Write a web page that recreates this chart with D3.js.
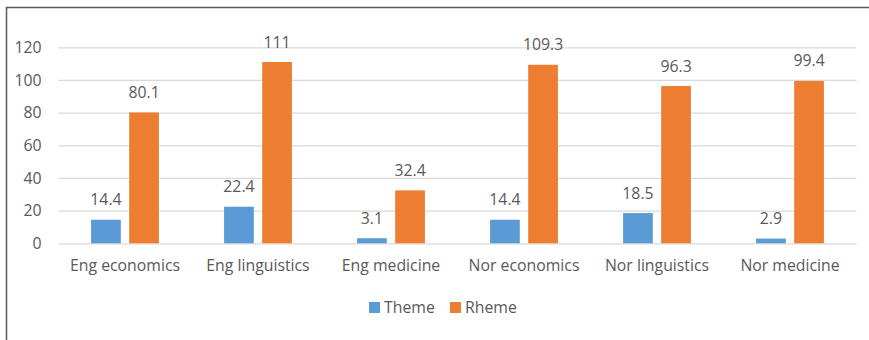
<!DOCTYPE html>
<html>
<head>
<meta charset="utf-8">
<script src="https://cdn.jsdelivr.net/npm/d3@7"></script>
<style>
  html, body { margin: 0; padding: 0; background: #fff; }
  svg { display: block; font-family: "Open Sans", sans-serif; }
</style>
</head>
<body>
<svg id="chart" width="869" height="340"></svg>
<script>
// Theme / Rheme counts per corpus
const categories = ["Eng economics", "Eng linguistics", "Eng medicine", "Nor economics", "Nor linguistics", "Nor medicine"];
const seriesNames = ["Theme", "Rheme"];
const themeValues = [14.4, 22.4, 3.1, 14.4, 18.5, 2.9];
const rhemeValues = [80.1, 111, 32.4, 109.3, 96.3, 99.4];
const yTicks = [0, 20, 40, 60, 80, 100, 120];
const seriesColors = ["#5B9BD5", "#ED7D31"];

const rows = categories.map((c, i) => ({ category: c, values: [themeValues[i], rhemeValues[i]] }));

const svg = d3.select("#chart");
const textColor = "#595959";
const fontSize = "15.8px";

// Chart frame
svg.append("rect")
  .attr("x", 6.5).attr("y", 7.5)
  .attr("width", 900).attr("height", 400)
  .attr("fill", "none").attr("stroke", "#5a5a5a").attr("stroke-width", 1.5);

const plot = { left: 58.5, right: 856.5, top: 47.3, bottom: 243.3 };

const y = d3.scaleLinear().domain([0, 120]).range([plot.bottom, plot.top]);
const x0 = d3.scaleBand().domain(categories).range([plot.left, plot.right])
  .paddingInner(0.49).paddingOuter(0.245);
const x1 = d3.scaleBand().domain(seriesNames).range([0, x0.bandwidth()])
  .paddingInner(0.22).paddingOuter(0);
const color = d3.scaleOrdinal().domain(seriesNames).range(seriesColors);

// Gridlines + y tick labels
const yAxis = svg.append("g")
  .attr("transform", `translate(${plot.left},0)`)
  .call(d3.axisLeft(y).tickValues(yTicks).tickSize(-(plot.right - plot.left)).tickPadding(17));
yAxis.select(".domain").remove();
yAxis.selectAll(".tick line").attr("stroke", "#d9d9d9").attr("stroke-width", 1.3);
yAxis.selectAll(".tick text")
  .attr("fill", textColor).style("font-size", fontSize).style("font-family", "'Open Sans', sans-serif");

// Category labels
const xAxis = svg.append("g")
  .attr("transform", `translate(0,${plot.bottom})`)
  .call(d3.axisBottom(x0).tickSize(0).tickPadding(16));
xAxis.select(".domain").remove();
xAxis.selectAll(".tick text")
  .attr("fill", textColor).style("font-size", fontSize).style("font-family", "'Open Sans', sans-serif");

// Bars
const groups = svg.append("g").selectAll("g")
  .data(rows).join("g")
  .attr("transform", d => `translate(${x0(d.category)},0)`);

const bars = groups.selectAll("g.bar")
  .data(d => seriesNames.map((s, j) => ({ series: s, value: d.values[j] })))
  .join("g").attr("class", "bar");

bars.append("rect")
  .attr("x", d => x1(d.series))
  .attr("width", x1.bandwidth())
  .attr("y", d => y(d.value))
  .attr("height", d => y(0) - y(d.value))
  .attr("fill", d => color(d.series));

bars.append("text")
  .attr("x", d => x1(d.series) + x1.bandwidth() / 2)
  .attr("y", d => y(d.value) - 14.5)
  .attr("text-anchor", "middle")
  .attr("fill", textColor)
  .style("font-size", fontSize)
  .text(d => d.value);

// Legend
const legendItems = [
  { name: "Theme", x: 369 },
  { name: "Rheme", x: 450 }
];
const legend = svg.append("g").selectAll("g")
  .data(legendItems).join("g")
  .attr("transform", d => `translate(${d.x},302)`);
legend.append("rect").attr("width", 11).attr("height", 11).attr("fill", d => color(d.name));
legend.append("text")
  .attr("x", 15).attr("y", 5.5).attr("dy", "0.35em")
  .attr("fill", textColor).style("font-size", fontSize)
  .text(d => d.name);
</script>
</body>
</html>
